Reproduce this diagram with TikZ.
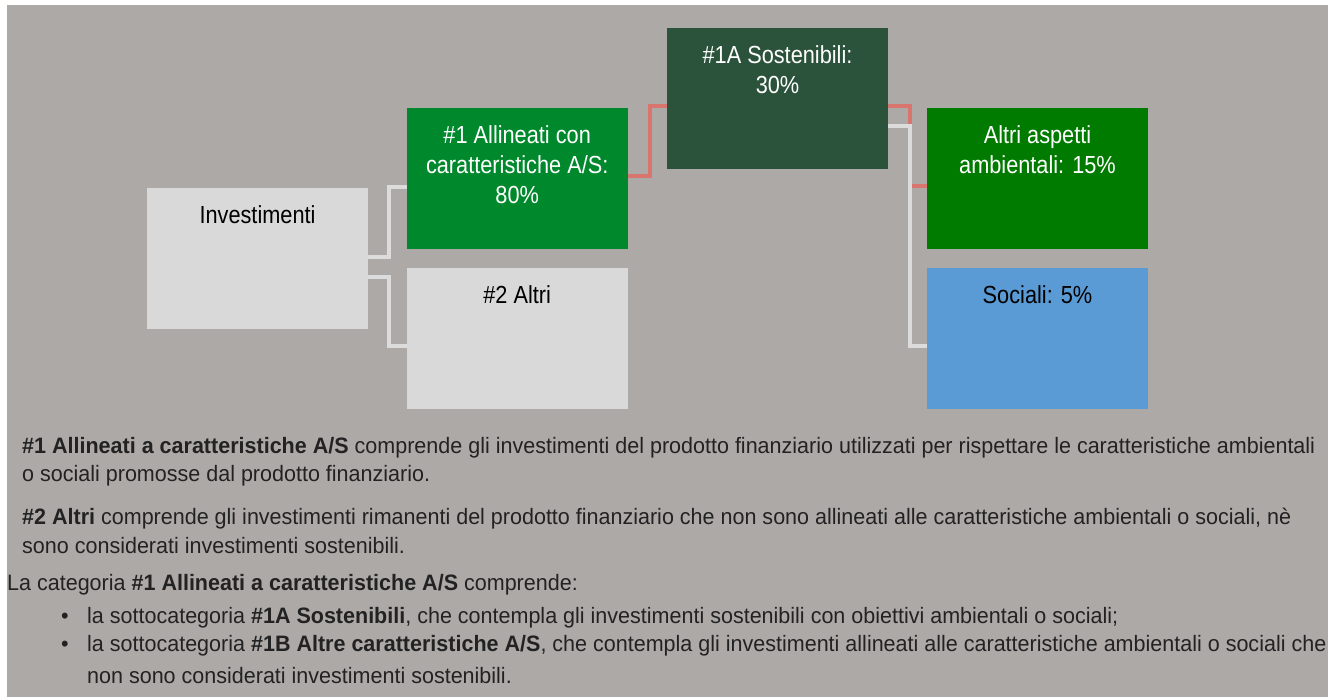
\documentclass[tikz,border=0pt]{standalone}
\usepackage{fontspec}
\setmainfont{Liberation Sans}
\newfontfamily\boxfont{Liberation Sans}[FakeStretch=0.88]
\newfontfamily\bodyfont{Liberation Sans}[FakeStretch=0.965]
\usetikzlibrary{calc}
\definecolor{bgc}{HTML}{ADA9A7}
\definecolor{lgray}{HTML}{D9D9D9}
\definecolor{greenA}{HTML}{00892C}
\definecolor{greenD}{HTML}{2B523A}
\definecolor{greenB}{HTML}{007B00}
\definecolor{blueS}{HTML}{5B9BD5}
\definecolor{redc}{HTML}{D8756F}
\definecolor{wc}{HTML}{DCDCDC}
\definecolor{txt}{HTML}{222222}
\begin{document}
\begin{tikzpicture}[x=1pt,y=-1pt,
  box/.style={rectangle,inner sep=0pt,outer sep=0pt,minimum width=221pt,minimum height=140.7pt,anchor=north west},
  boxlabel/.style={inner sep=0pt,anchor=base,font=\boxfont\fontsize{24.7}{30}\selectfont},
  bodytext/.style={inner sep=0pt,anchor=base west,text=txt,font=\bodyfont\fontsize{22.3}{26}\selectfont},
  wconn/.style={draw=wc,line width=4pt},
  rconn/.style={draw=redc,line width=4pt}]
\useasboundingbox (0,0) rectangle (1331,698);
\fill[white] (0,0) rectangle (1331,698);
\fill[bgc] (7,5) rectangle (1328,697);

% boxes
\node[box,fill=lgray] (inv) at (147,188) {};
\node[box,fill=greenA] (b1) at (406.7,108) {};
\node[box,fill=lgray] (b2) at (406.7,268) {};
\node[box,fill=greenD] (sost) at (667,28) {};
\node[box,fill=greenB] (alt) at (927,108) {};
\node[box,fill=blueS] (soc) at (927,268) {};

% labels
\node[boxlabel,text=black] (tinv) at ($(inv.north)+(0,35.5)$) {\begin{tabular}[t]{@{}c@{}}Investimenti\end{tabular}};
\node[boxlabel,text=white] (tb1) at ($(b1.north)+(0,35.5)$) {\begin{tabular}[t]{@{}c@{}}\#1 Allineati con\\caratteristiche A/S:\\80\%\end{tabular}};
\node[boxlabel,text=black] (tb2) at ($(b2.north)+(0,35.5)$) {\begin{tabular}[t]{@{}c@{}}\#2 Altri\end{tabular}};
\node[boxlabel,text=white] (tsost) at ($(sost.north)+(0,35.5)$) {\begin{tabular}[t]{@{}c@{}}\#1A Sostenibili:\\30\%\end{tabular}};
\node[boxlabel,text=white] (talt) at ($(alt.north)+(0,35.5)$) {\begin{tabular}[t]{@{}c@{}}Altri aspetti\\ambientali: 15\%\end{tabular}};
\node[boxlabel,text=black] (tsoc) at ($(soc.north)+(0,35.5)$) {\begin{tabular}[t]{@{}c@{}}Sociali: 5\%\end{tabular}};

% connectors
\draw[wconn] ($(inv.north east)+(0,68.7)$) -- ++(21.3,0) |- ($(b1.north west)+(0,78.7)$);
\draw[wconn] ($(inv.north east)+(0,88.7)$) -- ++(21.3,0) |- ($(b2.north west)+(0,78)$);
\draw[rconn] ($(b1.north east)+(0,68)$) -- ++(22.3,0) |- ($(sost.north west)+(0,78)$);
\draw[rconn] ($(sost.north east)+(0,78.3)$) -- ++(21.5,0) |- ($(alt.north west)+(0,78)$);
\draw[wconn] ($(sost.north east)+(0,98.3)$) -- ++(21.5,0) |- ($(soc.north west)+(0,78)$);

% body text
\node[bodytext] (l1) at (22,453) {\textbf{\#1 Allineati a caratteristiche A/S} comprende gli investimenti del prodotto finanziario utilizzati per rispettare le caratteristiche ambientali};
\node[bodytext] (l2) at (22,481) {o sociali promosse dal prodotto finanziario.};
\node[bodytext] (l3) at (22,524) {\textbf{\#2 Altri} comprende gli investimenti rimanenti del prodotto finanziario che non sono allineati alle caratteristiche ambientali o sociali, nè};
\node[bodytext] (l4) at (22,553) {sono considerati investimenti sostenibili.};
\node[bodytext] (l5) at (7,590) {La categoria \textbf{\#1 Allineati a caratteristiche A/S} comprende:};
\node[bodytext] (bu1) at (61,623) {•};
\node[bodytext] (l6) at (87,623) {la sottocategoria \textbf{\#1A Sostenibili}, che contempla gli investimenti sostenibili con obiettivi ambientali o sociali;};
\node[bodytext] (bu2) at (61,651) {•};
\node[bodytext] (l7) at (87,651) {la sottocategoria \textbf{\#1B Altre caratteristiche A/S}, che contempla gli investimenti allineati alle caratteristiche ambientali o sociali che};
\node[bodytext] (l8) at (87,683) {non sono considerati investimenti sostenibili.};
\end{tikzpicture}
\end{document}
